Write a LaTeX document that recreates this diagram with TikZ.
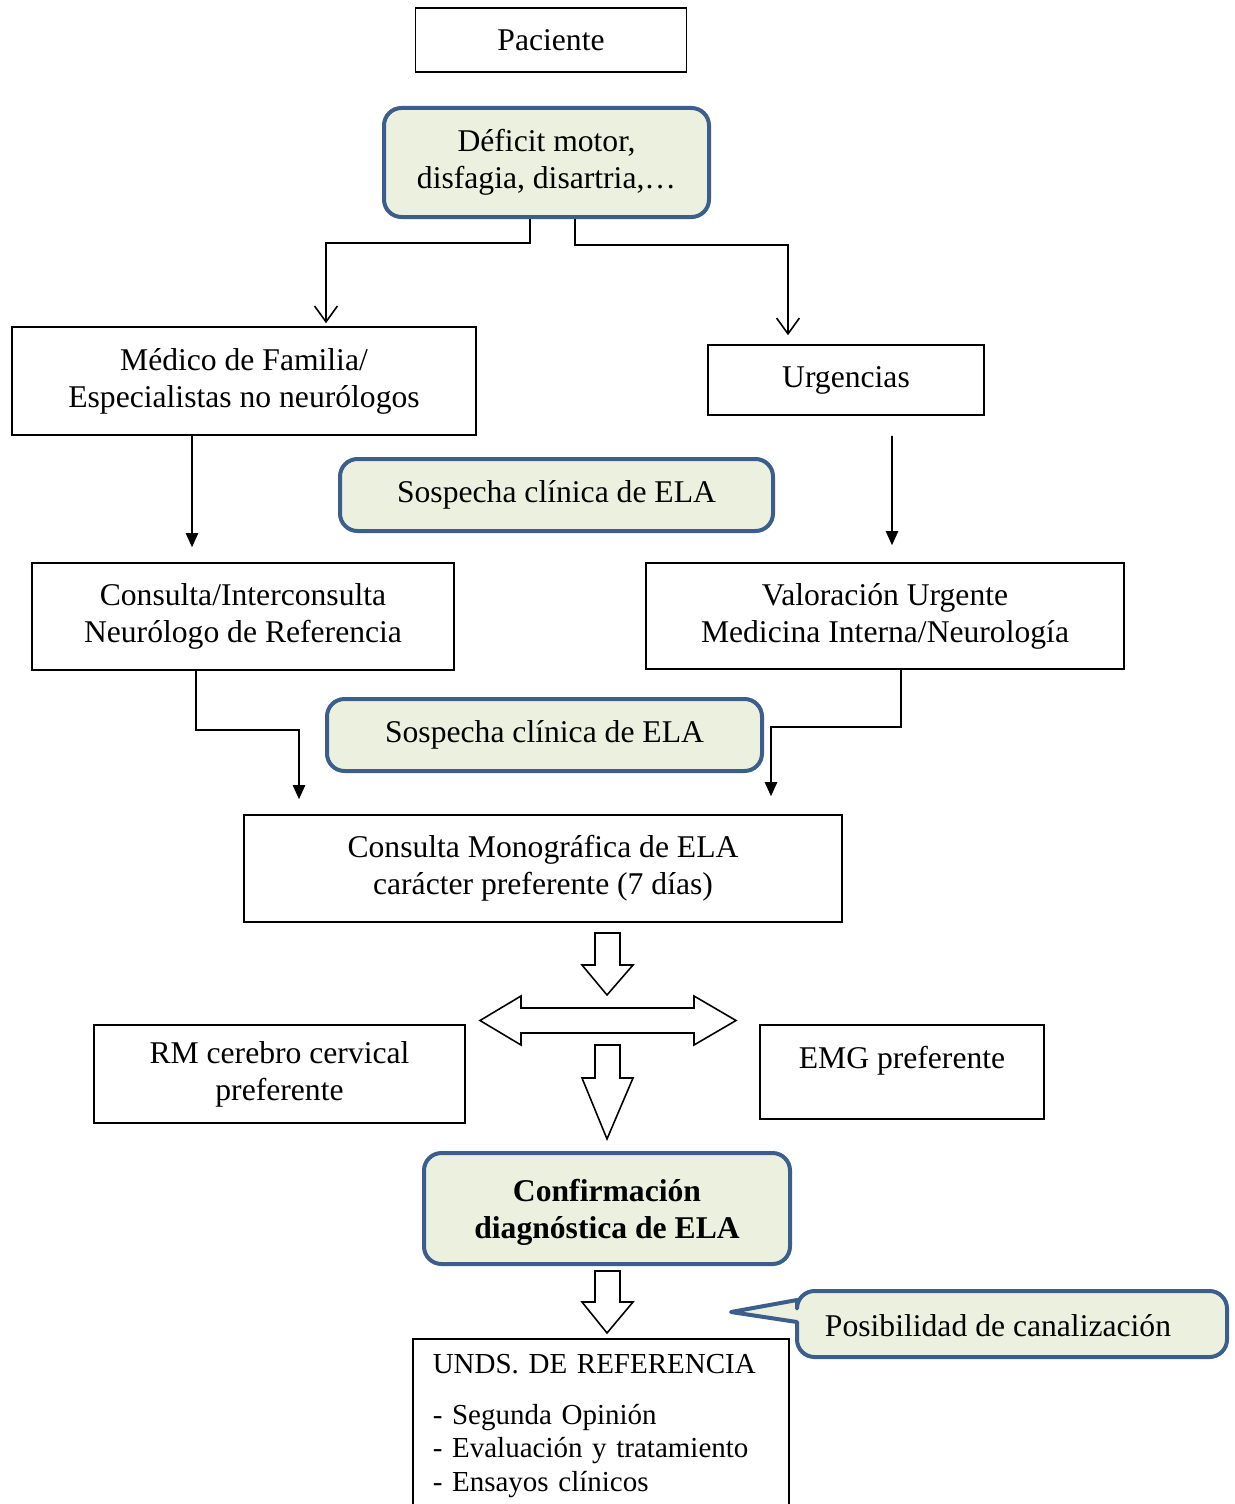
\documentclass[tikz,border=0pt]{standalone}
\usepackage{fontspec}
\setmainfont{Liberation Serif}
\usetikzlibrary{arrows.meta}
\usetikzlibrary{calc}
\definecolor{elafill}{HTML}{EBF1DE}
\definecolor{elaline}{HTML}{3C5E8C}

\begin{document}
\begin{tikzpicture}[
  font = \fontsize{18}{21}\selectfont,
  box/.style = {draw,line width=0.9pt,align=center,inner sep=0pt},
  rbox/.style = {draw=elaline,fill=elafill,line width=0.08cm,rounded corners=0.35cm,align=center,inner sep=0pt},
  fl/.style = {line width=0.9pt,-{Triangle[length=8pt,width=7pt]}},
  op/.style = {line width=0.9pt,-{Straight Barb[length=9pt,width=13pt]}},
  blk/.style = {draw,line width=0.9pt,fill=white,line join=miter}
  ]
  \useasboundingbox (0,0) rectangle (24.68,-30.08);

  \node[box,minimum width=5.42cm,minimum height=1.28cm] (pac) at (11.02,-0.80) {Paciente};
  \node[rbox,minimum width=6.50cm,minimum height=2.18cm] (def) at (10.93,-3.25) {Déficit motor,\\disfagia, disartria,\dots};

  \node[box,minimum width=9.28cm,minimum height=2.16cm] (med) at (4.88,-7.62) {Médico de Familia/\\Especialistas no neurólogos};
  \node[box,minimum width=5.52cm,minimum height=1.40cm] (urg) at (16.92,-7.60) {Urgencias};
  \node[rbox,minimum width=8.66cm,minimum height=1.44cm] (sos1) at (11.13,-9.90) {Sospecha clínica de ELA};

  \node[box,minimum width=8.44cm,minimum height=2.14cm] (cons) at (4.86,-12.33) {Consulta/Interconsulta\\Neurólogo de Referencia};
  \node[box,minimum width=9.56cm,minimum height=2.12cm] (val) at (17.70,-12.32) {Valoración Urgente\\Medicina Interna/Neurología};
  \node[rbox,minimum width=8.70cm,minimum height=1.44cm] (sos2) at (10.89,-14.70) {Sospecha clínica de ELA};

  \node[box,minimum width=11.96cm,minimum height=2.14cm] (mono) at (10.86,-17.37) {Consulta Monográfica de ELA\\carácter preferente (7 días)};
  \node[box,minimum width=7.42cm,minimum height=1.96cm] (rm) at (5.59,-21.48) {RM cerebro cervical\\preferente};
  \node[box,minimum width=5.68cm,minimum height=1.88cm] (emg) at (18.04,-21.44) {EMG preferente\\[-4pt] \mbox{}};

  \node[rbox,minimum width=7.32cm,minimum height=2.22cm,text height=1.32cm,font=\fontsize{18}{21}\selectfont\bfseries] (conf) at (12.14,-24.17) {Confirmación\\diagnóstica de ELA};

  % callout
  \draw[draw=elaline,fill=elafill,line width=0.08cm,line join=round]
    (15.94,-26.00) -- (14.62,-26.24) -- (15.94,-26.44)
    [rounded corners=0.35cm] -- (15.94,-27.14) -- (24.54,-27.14) -- (24.54,-25.82) -- (15.94,-25.82) [sharp corners] -- cycle;
  \node (canal) at (19.96,-26.52) {Posibilidad de canalización};

  \node[box,anchor=north west,inner xsep=0.4cm,inner ysep=0.30cm,text width=6.72cm,align=left,
        font=\fontsize{16.5}{19}\selectfont] (unds) at (8.24,-26.76)
    {UNDS. DE REFERENCIA\\[0.36cm]- Segunda Opinión\\- Evaluación y tratamiento\\- Ensayos clínicos};

  % connectors
  \draw[op] ([xshift=-0.33cm]def.south) -- ++(0,-0.48) -| ([xshift=1.64cm,yshift=0.06cm]med.north);
  \draw[op] ([xshift=0.57cm]def.south) -- ++(0,-0.52) -| ([xshift=-1.16cm,yshift=0.18cm]urg.north);
  \draw[fl] ([xshift=-1.04cm]med.south) -- ([xshift=-1.02cm,yshift=0.30cm]cons.north);
  \draw[fl] ([xshift=0.92cm,yshift=-0.40cm]urg.south) -- ([xshift=0.14cm,yshift=0.34cm]val.north);
  \draw[fl] ([xshift=-0.94cm]cons.south) -- ++(0,-1.18) -| ([xshift=-4.88cm,yshift=0.30cm]mono.north);
  \draw[fl] ([xshift=0.32cm]val.south) -- ++(0,-1.14) -| ([xshift=4.56cm,yshift=0.36cm]mono.north);

  % block arrows
  \foreach \t/\m/\b in {-18.66/-19.30/-19.90, -20.90/-21.56/-22.78, -25.42/-26.04/-26.66}
    \draw[blk] (11.90,\t) -- (12.40,\t) -- (12.40,\m) -- (12.66,\m) -- (12.14,\b) -- (11.64,\m) -- (11.90,\m) -- cycle;
  \draw[blk] (9.60,-20.41) -- (10.42,-19.92) -- (10.42,-20.16) -- (13.88,-20.16) -- (13.88,-19.92) -- (14.72,-20.41)
    -- (13.88,-20.90) -- (13.88,-20.66) -- (10.42,-20.66) -- (10.42,-20.90) -- cycle;
\end{tikzpicture}
\end{document}
